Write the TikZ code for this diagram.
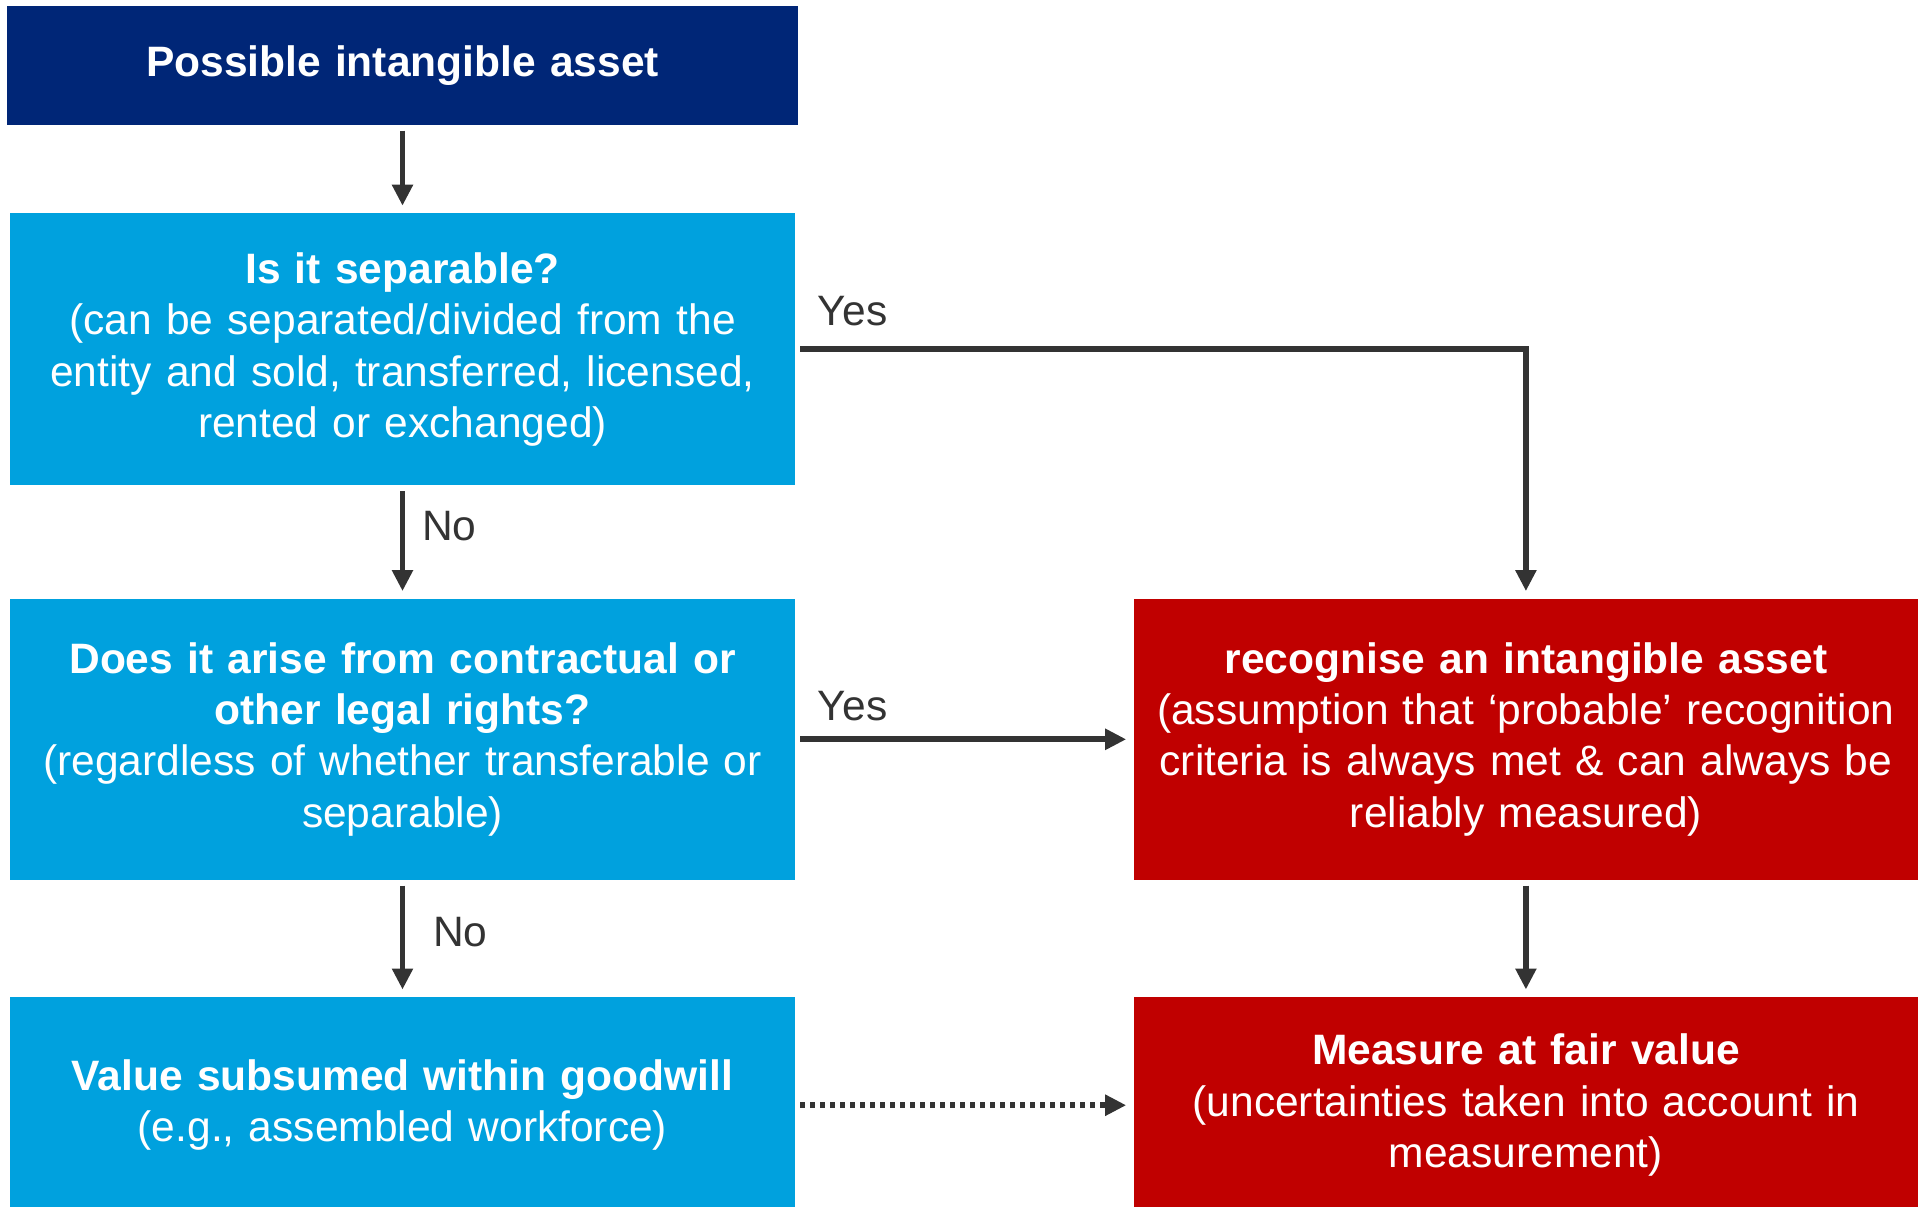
\documentclass[tikz,border=0pt]{standalone}
\usepackage{fontspec}
\setmainfont{Liberation Sans}
\usepackage{tikz}
\usetikzlibrary{arrows.meta,positioning}
\usepackage{xcolor}
\definecolor{navyblue}{RGB}{0,38,119}
\definecolor{skyblue}{RGB}{0,161,222}
\definecolor{alertred}{RGB}{192,0,0}
\definecolor{linegrey}{RGB}{51,51,51}

\begin{document}
\begin{tikzpicture}[
    every node/.style={font=\fontsize{12.1pt}{14.6pt}\selectfont},
    box/.style={rectangle, inner sep=0pt, text=white, align=center, text width=7.7cm, minimum width=7.84cm},
    startbox/.style={box, fill=navyblue, minimum width=7.91cm, minimum height=1.19cm},
    qbox/.style={box, fill=skyblue},
    resbox/.style={box, fill=alertred},
    conn/.style={draw=linegrey, line width=1.7pt, -{Triangle[length=0.21cm,width=0.2cm]}, shorten <=0.05cm, shorten >=0.07cm},
    lbl/.style={text=linegrey, inner sep=0pt, anchor=base west}
]
    \useasboundingbox (0,0) rectangle (19.23,-12.07);

    \node (start) [startbox] at (4.025,-0.655) {\textbf{Possible intangible asset}};
    \node (separable) [qbox, minimum height=2.72cm, below=0.87cm of start] {\textbf{Is it separable?}\\(can be separated/divided from the\\entity and sold, transferred, licensed,\\rented or exchanged)};
    \node (legal) [qbox, minimum height=2.81cm, below=1.12cm of separable] {\textbf{Does it arise from contractual or}\\\textbf{other legal rights?}\\(regardless of whether transferable or\\separable)};
    \node (goodwill) [qbox, minimum height=2.16cm, below=1.16cm of legal] {\textbf{Value subsumed within goodwill}\\(e.g., assembled workforce)};
    \node (recognise) [resbox, minimum height=2.81cm, right=3.38cm of legal] {\textbf{recognise an intangible asset}\\(assumption that ‘probable’ recognition\\criteria is always met \& can always be\\reliably measured)};
    \node (measure) [resbox, minimum height=2.16cm, below=1.16cm of recognise] {\textbf{Measure at fair value}\\(uncertainties taken into account in\\measurement)};

    \draw[conn] (start) -- (separable);
    \draw[conn] (separable) -- (legal);
    \draw[conn] (legal) -- (goodwill);
    \draw[conn] (separable.east) -| (recognise.north);
    \draw[conn] (legal) -- (recognise);
    \draw[conn] (recognise) -- (measure);
    \draw[conn, dash pattern=on 0.05cm off 0.05cm] (goodwill) -- (measure);

    \node (yes1) [lbl] at ([xshift=0.22cm, yshift=0.24cm]separable.east) {Yes};
    \node (yes2) [lbl] at ([xshift=0.22cm, yshift=0.19cm]legal.east) {Yes};
    \node (no1) [lbl] at ([xshift=0.19cm, yshift=-0.54cm]separable.south) {No};
    \node (no2) [lbl] at ([xshift=0.30cm, yshift=-0.66cm]legal.south) {No};
\end{tikzpicture}
\end{document}
